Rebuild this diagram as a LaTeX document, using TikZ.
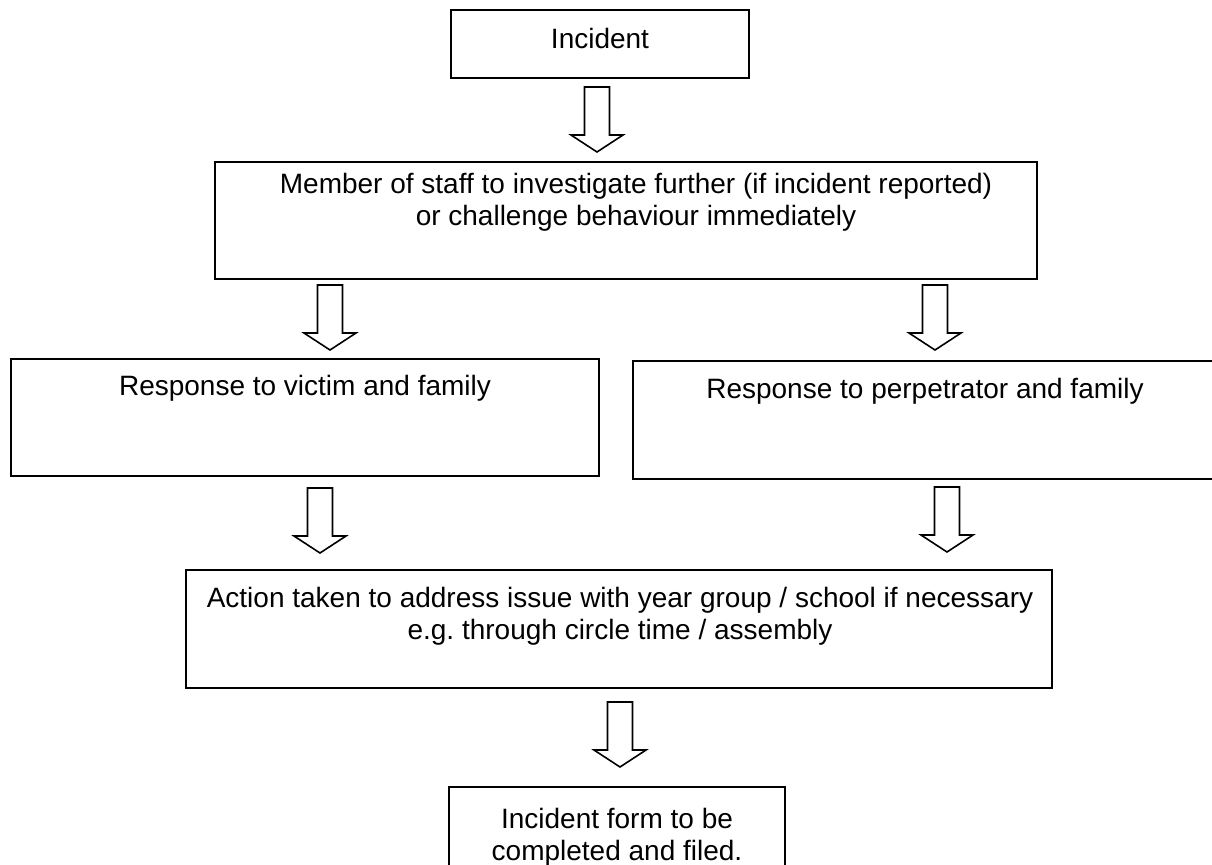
\documentclass[tikz,border=0pt]{standalone}
\usepackage{fontspec}
\setmainfont{Liberation Sans}
\usetikzlibrary{fit,calc}
\frenchspacing
\begin{document}
\begin{tikzpicture}[x=0.5pt,y=-0.5pt,
  stepbox/.style={draw=black, line width=1.2pt, inner sep=0pt},
  txt/.style={inner sep=0pt, align=center, font=\fontsize{14pt}{16pt}\selectfont},
  hollow/.pic={\draw[line width=0.8pt, line join=miter, fill=white]
     (-12.5,0) -- (-12.5,48) -- (-26,48) -- (0,65) -- (26,48) -- (12.5,48) -- (12.5,0) -- cycle;}
]
\useasboundingbox (0,0) rectangle (1212,864);
\clip (0,0) rectangle (1212,864);
\fill[white] (0,0) rectangle (1212,864);

% boxes
\node[stepbox, fit={(451,10) (749,78)}] (inc) {};
\node[stepbox, fit={(215,162) (1037,279)}] (mem) {};
\node[stepbox, fit={(11,359) (599,476)}] (vic) {};
\node[stepbox, fit={(633,361) (1240,479)}] (per) {};
\node[stepbox, fit={(186,570) (1052,688)}] (act) {};
\node[stepbox, fit={(449,787) (785,900)}] (form) {};

% texts
\node[txt] (incT) at (600,38) {Incident};
\node[txt] (memT) at (636,202) {Member of staff to investigate further (if incident reported)\\or challenge behaviour immediately};
\node[txt] (vicT) at (305,388) {Response to victim and family};
\node[txt] (perT) at (925,391) {Response to perpetrator and family};
\node[txt] (actT) at (620,616) {Action taken to address issue with year group / school if necessary\\e.g. through circle time / assembly};
\node[txt] (formT) at (617,837) {Incident form to be\\completed and filed.};

% hollow arrows
\coordinate (a1) at (597,87);
\coordinate (a2) at (330,285);
\coordinate (a3) at (935,285);
\coordinate (a4) at (320,488);
\coordinate (a5) at (947,487);
\coordinate (a6) at (620,702);
\foreach \c in {a1,a2,a3,a4,a5,a6} { \pic at (\c) {hollow}; }
\end{tikzpicture}
\end{document}
